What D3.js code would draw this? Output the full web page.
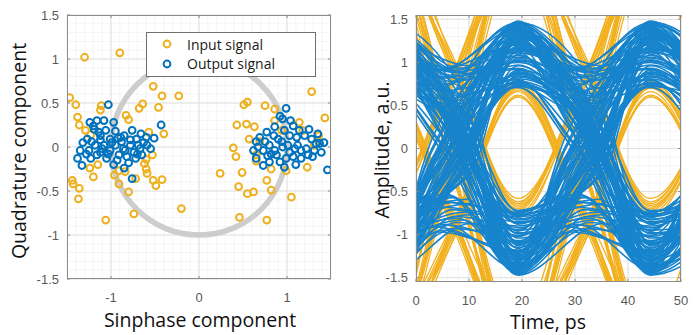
<!DOCTYPE html>
<html>
<head>
<meta charset="utf-8">
<script src="https://cdn.jsdelivr.net/npm/d3@7"></script>
<style>
body{margin:0;background:#fff;}
svg{display:block;}
</style>
</head>
<body>
<div id="chart"></div>
<script>
// ---- constellation data (I, Q) ----
var inputSignal = [
 [-1.30,1.02],[-0.90,1.07],[-1.47,0.56],[-1.40,0.48],[-1.38,0.34],[-1.36,0.25],[-1.11,0.47],[-1.12,0.42],
 [-0.52,0.69],[-0.42,0.58],[-0.23,0.58],[-0.46,0.45],[-0.68,0.44],[-0.64,0.49],[-0.83,0.36],[-0.80,0.31],
 [-0.40,0.15],[-0.53,-0.09],[-0.60,-0.14],[-0.62,-0.19],[-0.60,-0.25],[-0.59,-0.30],[-0.96,-0.32],[-0.91,-0.27],
 [-0.91,-0.42],[-0.80,-0.51],[-0.74,-0.76],[-1.06,-0.83],[-1.20,-0.34],[-1.24,-0.24],[-1.15,-0.20],[-1.44,-0.38],
 [-1.43,-0.42],[-1.36,-0.47],[-1.37,-0.59],[-0.52,-0.38],[-0.49,-0.44],[-0.42,-0.37],[-0.20,-0.70],[-1.23,0.14],
 [-1.29,0.19],[-0.72,-0.36],[-0.84,-0.28],[-0.57,0.17],
 [1.28,0.63],[1.43,0.33],[0.55,0.51],[0.51,0.48],[0.75,0.47],[0.86,0.43],[0.86,0.30],[0.63,0.23],
 [0.54,0.26],[0.43,0.25],[0.57,0.09],[0.39,-0.01],[0.42,-0.11],[0.65,-0.09],[0.65,-0.16],[0.24,-0.30],
 [0.49,-0.29],[0.45,-0.45],[0.55,-0.53],[0.62,-0.51],[0.77,-0.38],[0.82,-0.49],[1.05,-0.57],[0.46,-0.80],
 [0.77,-0.83],[0.99,-0.27],[1.23,-0.23],[1.31,0.02],[1.36,0.13],[1.14,0.28],[0.94,0.19],[1.18,0.19],
 [0.69,0.06],[0.82,-0.25]
];
var outputSignal = [
 [-1.03,0.48],[-0.43,0.25],[-0.51,0.10],[-0.76,-0.36],[-1.38,-0.13],[-1.33,-0.21],[-1.32,0.05],[-1.25,-0.04],
 [-1.24,0.28],[-1.16,0.30],[-1.08,0.30],[-1.19,0.20],[-1.12,0.13],[-0.95,0.18],[-0.85,0.13],[-0.76,0.19],
 [-0.71,0.09],[-0.60,0.11],[-0.59,0.02],[-0.67,-0.02],[-0.74,-0.06],[-0.82,-0.11],[-0.80,-0.18],[-0.91,-0.09],
 [-1.01,-0.04],[-1.08,0.02],[-1.18,0.02],[-1.16,-0.09],[-1.05,-0.13],[-0.95,0.02],[-0.88,0.06],[-0.78,0.02],
 [-1.01,0.09],[-1.06,0.19],[-1.27,0.09],[-1.35,-0.04],[-1.12,-0.06],[-0.93,-0.15],[-0.72,-0.13],[-0.65,-0.09],
 [-0.55,-0.02],[-0.84,-0.04],[-1.23,-0.13],[-0.97,0.28],[-0.89,0.11],[-1.12,0.08],[-1.22,0.06],[-0.69,0.02],
 [-1.10,-0.02],[-0.99,0.05],[-0.86,-0.02],[-0.78,0.08],[-0.70,-0.08],[-1.03,-0.08],[-0.92,0.10],[-1.28,-0.08],
 [-0.63,0.05],[-1.14,0.17],[-0.97,-0.20],[-0.85,-0.24],[-1.20,0.24],[-0.66,0.15],
 [0.99,0.44],[1.46,-0.26],[0.97,-0.23],[1.07,0.24],[0.95,0.32],[0.86,0.23],[0.77,0.17],[0.65,0.06],
 [0.73,-0.04],[0.80,0.02],[0.90,0.09],[0.95,0.00],[1.03,-0.06],[1.12,0.02],[1.20,0.13],[1.28,0.09],
 [1.35,0.15],[1.37,0.04],[1.31,-0.04],[1.24,-0.09],[1.16,-0.13],[1.07,-0.11],[0.99,-0.13],[0.88,-0.09],
 [0.80,-0.17],[0.73,-0.21],[0.65,-0.13],[0.62,-0.04],[0.69,0.11],[0.85,0.13],[1.03,0.13],[1.11,0.11],
 [1.14,0.19],[1.01,0.02],[0.86,-0.04],[0.92,-0.17],[1.29,-0.11],[1.39,-0.06],[1.33,0.04],[1.16,-0.04],
 [1.09,-0.02],[0.75,0.06],[0.82,-0.08],[0.94,0.06],[0.97,0.19],[0.67,0.00],[1.42,0.05],[0.92,0.35],
 [1.04,0.30],[1.22,-0.02],[0.78,-0.10],[1.10,-0.20],[1.25,0.20]
];
var legendLabels = ["Input signal", "Output signal"];
var iqXTicks = [-1, 0, 1];
var iqYTicks = [-1.5, -1, -0.5, 0, 0.5, 1, 1.5];

// ---- eye diagram data: symbol levels, boundary samples and boundary timing offsets (ps) ----
var outputLevels = [
 1.42,-1.05,0.78,1.36,-1.28,-0.74,1.19,-1.45,0.88,1.31,
 1.08,-0.82,-1.40,1.25,-0.95,-1.33,0.72,1.47,-1.15,0.91,
 -1.38,-1.02,-0.79,1.30,1.12,-1.44,0.84,-1.21,1.39,0.76,
 -0.98,-1.35,1.17,1.44,0.81,-1.26,1.02,-0.73,-1.41,1.22,
 -1.10,1.35,0.93,-0.86,-1.39,-1.18,1.29,0.75,-1.32,1.46,
 1.01,-0.77,1.26,-1.43,-0.90,1.14,1.40,-1.07,0.83,-1.37,
 -1.23,0.96,-1.30,1.48,1.20,0.71,-1.36,-0.85,1.33,-1.12,
 1.06,-1.46,-0.94,1.27,1.38,-0.80,0.87,-1.25,1.16,1.43,
 -1.09,-1.40,0.79,-1.19,1.32,-0.76,-1.34,1.11,1.45,0.92,
 -1.27,0.74,-1.42,1.24,-0.99,-1.31,1.37,-0.88,1.03,-1.16,
 1.41,-1.22,0.86,-0.72,-1.44,1.18,0.97,1.34,-1.04,-1.29,
 0.73,1.46,-1.13,1.28,-0.83,1.09,-1.39,-1.20,1.36,0.80,
 -0.92,1.23,-1.47,-1.01,1.15,1.42,-0.78,0.89,-1.35,1.30,
 -1.11,-0.75,1.40,-1.24,1.05,0.84,-1.37,1.21,-0.96,1.47,
 1.13,-1.30,-1.08,0.77,-1.42,1.35,-0.87,1.26,1.00,-1.18
];
var outputCross = [
 0.22,-0.18,0.55,0.41,-0.62,-0.05,0.33,-0.27,0.66,0.87,
 0.48,-0.57,0.08,0.52,-0.81,-0.38,0.49,0.57,-0.12,0.15,
 -0.93,-0.68,-0.31,0.78,0.26,-0.22,0.19,0.03,0.61,0.11,
 -0.74,-0.09,0.92,0.70,0.29,-0.01,0.44,-0.55,-0.15,0.36,
 -0.24,0.83,0.17,-0.64,-0.97,0.06,0.58,0.05,0.13,0.89,
 0.39,-0.35,0.31,-0.79,-0.20,0.94,0.46,-0.14,0.21,-0.95,
 -0.07,0.27,0.10,0.90,0.52,0.02,-0.71,-0.29,0.49,-0.11,
 0.24,-0.86,-0.17,0.96,0.55,-0.04,0.12,0.00,0.85,0.43,
 -0.88,-0.33,0.14,-0.06,0.50,-0.59,-0.13,0.88,0.74,0.18,
 -0.26,0.07,-0.02,0.38,-0.77,0.04,0.45,-0.23,0.20,-0.10,
 0.34,-0.16,0.09,-0.53,-0.08,0.80,0.69,0.42,-0.83,-0.40,
 0.47,0.53,-0.03,0.47,-0.21,0.16,-0.91,0.01,0.63,0.10,
 -0.19,0.30,-0.87,-0.05,0.91,0.58,-0.09,0.13,-0.12,0.35,
 -0.63,-0.28,0.40,-0.14,0.67,0.03,-0.01,0.37,-0.25,0.93,
 0.28,-0.89,-0.30,0.06,-0.04,0.51,-0.18,0.82,0.23,0.00
];
var outputJitter = [
 1.2,-2.4,0.5,3.2,-1.4,2.1,-3.3,0.8,-0.6,2.9,
 -1.8,0.2,3.6,-2.7,1.1,-0.5,1.7,-3.0,2.4,-0.9,
 0.6,-2.1,3.3,-0.2,-2.9,2.0,0.9,-3.5,1.4,-1.2,
 2.6,-0.8,-1.7,3.0,0.3,-2.6,2.3,-0.3,-3.2,1.1,
 1.8,-1.5,0.0,3.5,-2.3,1.4,-1.1,2.7,-3.6,0.6,
 -0.5,2.4,-2.0,0.8,3.2,-1.4,-2.7,1.5,0.5,-1.8,
 3.3,-0.6,2.1,-3.0,1.2,-2.4,0.2,2.9,-0.9,-3.3,
 1.7,0.9,-2.1,3.6,-0.3,-1.5,2.6,-3.5,0.3,2.0,
 -1.2,0.8,-2.9,2.3,-0.2,3.0,-1.7,1.1,-3.2,1.5,
 -0.8,2.7,-2.6,0.5,3.5,-2.0,1.4,-0.6,1.8,-3.6,
 0.9,-2.3,3.2,-1.1,0.0,2.4,-3.0,0.6,2.1,-1.4,
 -2.4,3.3,0.3,-1.8,2.9,-0.5,-3.3,1.2,1.7,-2.7,
 0.8,-0.9,3.6,-2.1,1.4,-3.2,2.0,0.2,-1.5,2.6,
 -0.3,-2.9,1.1,3.0,-1.2,2.3,-2.0,0.5,-3.5,1.5,
 2.7,-0.8,-1.7,0.9,3.3,-2.6,0.6,-1.4,1.8,0.0
];
var inputLevels = [
 2.3,-2.5,0.68,-2.2,-2.6,0.75,-2.4,2.5,2.2,-0.62,
 2.6,-2.1,2.4,-0.70,2.3,2.7,-2.3,-2.5,0.80,-2.0,
 2.4,-0.58,2.5,-2.7,0.66,-2.3,2.2,-2.4,-2.1,0.72,
 -2.6,2.5,-0.75,2.3,2.6,-2.2,0.60,-2.5,2.4,-0.68,
 2.1,-2.4,-2.7,0.70,-2.3,2.6,2.2,-0.64,2.5,-2.2,
 0.78,-2.5,2.3,-2.6,2.4,-0.72,2.2,-2.3,-2.5,0.62,
 -2.4,2.7,-0.80,2.4,-2.1,0.70,-2.6,2.3,2.5,-0.66,
 2.2,-2.4,0.74,-2.3,2.6,-2.2,0.60,-2.5,2.3,-2.4
];
var inputCross = [
 0.20,-1.00,-0.80,-1.90,-0.95,-0.75,-0.25,1.90,1.05,0.80,
 0.30,0.10,0.90,0.85,2.00,-0.15,-1.80,-1.10,-0.70,0.25,
 1.00,0.75,0.05,-0.90,-0.85,-0.30,0.35,-2.00,-1.05,-0.80,
 0.00,0.95,0.70,1.85,0.20,-1.00,-0.90,-0.10,1.10,0.80,
 -0.20,-1.90,-0.40,-0.75,0.30,1.95,1.00,0.85,0.15,-1.10,
 -0.70,-0.20,0.25,-0.05,0.90,0.80,0.10,-1.85,-1.00,-0.85,
 0.35,1.05,0.75,-0.30,-0.90,-0.30,0.05,1.80,0.95,0.70,
 0.20,-1.05,-0.75,-0.15,0.30,-0.95,-0.80,0.10,-0.25,0.00
];
var timeTicks = [0, 10, 20, 30, 40, 50];
var ampTicks = [-1.5, -1, -0.5, 0, 0.5, 1, 1.5];

var W = 693, H = 335;
var orange = "#EDB120", blue = "#0072BD";
var tickFont = "'Liberation Sans', Arial, sans-serif";
var labelFont = "'Open Sans', 'Noto Sans', sans-serif";

var svg = d3.select("#chart").append("svg").attr("width", W).attr("height", H);

// scales
var xL = d3.scaleLinear().domain([-1.5, 1.5]).range([67, 331]);
var yL = d3.scaleLinear().domain([-1.5, 1.5]).range([279, 15]);
var xR = d3.scaleLinear().domain([0, 50]).range([416, 681]);
var yR = d3.scaleLinear().domain([-1.55, 1.55]).range([282, 15]);

function drawGrid(x, y, xMinorN, yMinorN, xT, yT) {
  var g = svg.append("g");
  var x0 = x.range()[0], x1 = x.range()[1], y0 = y.range()[1], y1 = y.range()[0];
  g.append("rect").attr("x", x0).attr("y", y0).attr("width", x1 - x0).attr("height", y1 - y0).attr("fill", "#fff");
  g.selectAll(".vmin").data(x.ticks(xMinorN)).enter().append("line")
    .attr("x1", d => x(d)).attr("x2", d => x(d)).attr("y1", y0).attr("y2", y1)
    .attr("stroke", "#f0f0f0").attr("stroke-width", 0.7);
  g.selectAll(".hmin").data(y.ticks(yMinorN)).enter().append("line")
    .attr("y1", d => y(d)).attr("y2", d => y(d)).attr("x1", x0).attr("x2", x1)
    .attr("stroke", "#f0f0f0").attr("stroke-width", 0.7);
  g.selectAll(".vmaj").data(xT).enter().append("line")
    .attr("x1", d => x(d)).attr("x2", d => x(d)).attr("y1", y0).attr("y2", y1)
    .attr("stroke", "#dedede").attr("stroke-width", 0.9);
  g.selectAll(".hmaj").data(yT).enter().append("line")
    .attr("y1", d => y(d)).attr("y2", d => y(d)).attr("x1", x0).attr("x2", x1)
    .attr("stroke", "#dedede").attr("stroke-width", 0.9);
}

function drawFrame(x, y, xT, yT, xLabY, yLabX) {
  var g = svg.append("g");
  var x0 = x.range()[0], x1 = x.range()[1], y0 = y.range()[1], y1 = y.range()[0];
  g.append("rect").attr("x", x0 + 0.5).attr("y", y0 + 0.5).attr("width", x1 - x0 - 1).attr("height", y1 - y0 - 1)
    .attr("fill", "none").attr("stroke", "#8c8c8c").attr("stroke-width", 1);
  g.selectAll(".xt").data(xT).enter().append("path")
    .attr("d", d => "M" + x(d) + "," + y1 + "v-3M" + x(d) + "," + y0 + "v3")
    .attr("stroke", "#8c8c8c");
  g.selectAll(".yt").data(yT).enter().append("path")
    .attr("d", d => "M" + x0 + "," + y(d) + "h3M" + x1 + "," + y(d) + "h-3")
    .attr("stroke", "#8c8c8c");
  g.selectAll(".xl").data(xT).enter().append("text")
    .attr("x", d => x(d)).attr("y", xLabY).attr("text-anchor", "middle")
    .style("font-family", tickFont).style("font-size", "13px").attr("fill", "#5a5a5a")
    .text(d => d);
  g.selectAll(".yl").data(yT).enter().append("text")
    .attr("x", yLabX).attr("y", d => y(d)).attr("text-anchor", "end").attr("dy", "0.35em")
    .style("font-family", tickFont).style("font-size", "13px").attr("fill", "#5a5a5a")
    .text(d => d);
}

// ---------- left: constellation ----------
drawGrid(xL, yL, 30, 30, iqXTicks, iqYTicks);

svg.append("clipPath").attr("id", "clipL").append("rect")
  .attr("x", 67).attr("y", 15).attr("width", 264).attr("height", 264);
var plotL = svg.append("g").attr("clip-path", "url(#clipL)");

// unit circle reference
plotL.append("ellipse")
  .attr("cx", xL(0)).attr("cy", yL(0))
  .attr("rx", xL(1) - xL(0)).attr("ry", yL(0) - yL(1))
  .attr("fill", "none").attr("stroke", "#cdcdcd").attr("stroke-width", 5.5);

plotL.selectAll(".inp").data(inputSignal).enter().append("circle")
  .attr("cx", d => xL(d[0])).attr("cy", d => yL(d[1])).attr("r", 3.4)
  .attr("fill", "none").attr("stroke", orange).attr("stroke-width", 2);
plotL.selectAll(".out").data(outputSignal).enter().append("circle")
  .attr("cx", d => xL(d[0])).attr("cy", d => yL(d[1])).attr("r", 3.4)
  .attr("fill", "none").attr("stroke", blue).attr("stroke-width", 2);

drawFrame(xL, yL, iqXTicks, iqYTicks, 302, 59);

// legend
var leg = svg.append("g");
leg.append("rect").attr("x", 146.5).attr("y", 32.5).attr("width", 169).attr("height", 44)
  .attr("fill", "#fff").attr("stroke", "#6e6e6e").attr("stroke-width", 1);
leg.selectAll(".lm").data([orange, blue]).enter().append("circle")
  .attr("cx", 167).attr("cy", (d, i) => 44 + i * 20).attr("r", 3.4)
  .attr("fill", "none").attr("stroke", d => d).attr("stroke-width", 2);
leg.selectAll(".lt").data(legendLabels).enter().append("text")
  .attr("x", 187).attr("y", (d, i) => 45.5 + i * 19).attr("dy", "0.35em")
  .style("font-family", labelFont).style("font-size", "14px").attr("fill", "#1a1a1a")
  .text(d => d);

svg.append("text").attr("x", 200).attr("y", 327).attr("text-anchor", "middle")
  .style("font-family", labelFont).style("font-size", "19.5px").attr("fill", "#111")
  .text("Sinphase component");
svg.append("text").attr("transform", "translate(26,151) rotate(-90)").attr("text-anchor", "middle")
  .style("font-family", labelFont).style("font-size", "19.5px").attr("fill", "#111")
  .text("Quadrature component");

// ---------- right: eye diagram ----------
drawGrid(xR, yR, 25, 30, timeTicks, ampTicks);

svg.append("clipPath").attr("id", "clipR").append("rect")
  .attr("x", 416).attr("y", 15).attr("width", 265).attr("height", 267);
var plotR = svg.append("g").attr("clip-path", "url(#clipR)");

var UI = 25;  // symbol period, ps
// one trace = a two-symbol window of the waveform
function buildTraces(levels, cross, jitter, tC) {
  var out = [];
  for (var k = 0; k + 3 < levels.length; k++) {
    var pts = [[tC - 1.5 * UI + (jitter ? jitter[k] : 0), cross[k]]];
    for (var j = 1; j <= 3; j++) {
      var tc = tC + (j - 2) * UI;
      pts.push([tc, levels[k + j]]);
      pts.push([tc + 0.5 * UI + (jitter ? jitter[k + j] : 0), cross[k + j]]);
    }
    out.push(pts);
  }
  return out;
}
var eyeLine = d3.line().x(d => xR(d[0])).y(d => yR(d[1])).curve(d3.curveMonotoneX);

plotR.selectAll(".tin").data(buildTraces(inputLevels, inputCross, null, 19.25)).enter().append("path")
  .attr("d", eyeLine).attr("fill", "none").attr("stroke", "#F2B01E").attr("stroke-width", 1.3);
plotR.selectAll(".tout").data(buildTraces(outputLevels, outputCross, outputJitter, 19.25)).enter().append("path")
  .attr("d", eyeLine).attr("fill", "none").attr("stroke", "#1784cc").attr("stroke-width", 1.6);

drawFrame(xR, yR, timeTicks, ampTicks, 304.5, 408);

svg.append("text").attr("x", 548).attr("y", 328.5).attr("text-anchor", "middle")
  .style("font-family", labelFont).style("font-size", "19.5px").attr("fill", "#111")
  .text("Time, ps");
svg.append("text").attr("transform", "translate(389,150) rotate(-90)").attr("text-anchor", "middle")
  .style("font-family", labelFont).style("font-size", "19.5px").attr("fill", "#111")
  .text("Amplitude, a.u.");
</script>
</body>
</html>
